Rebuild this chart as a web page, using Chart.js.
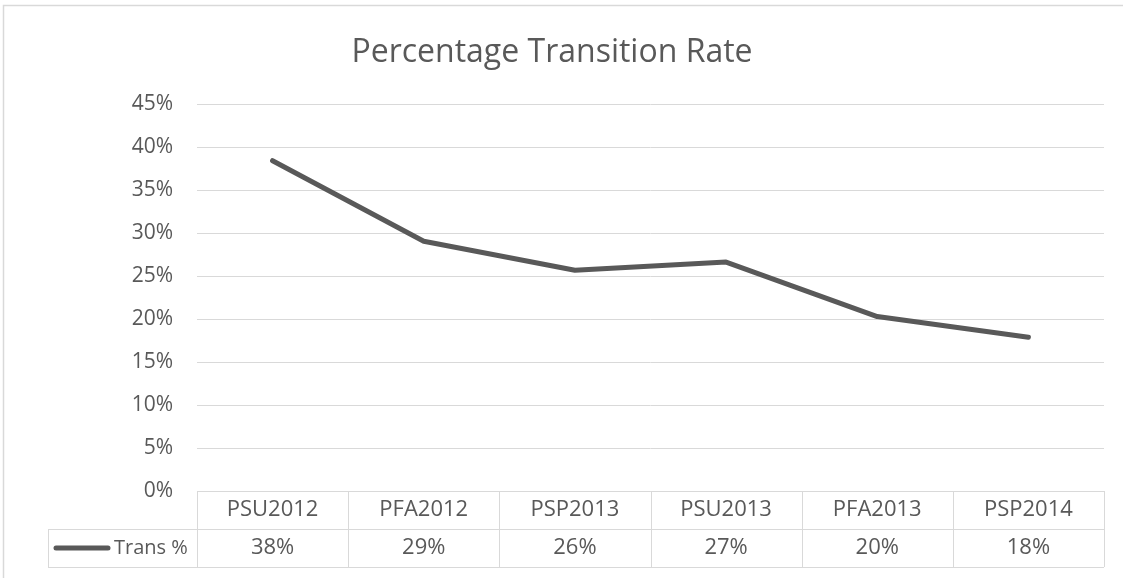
<!DOCTYPE html>
<html>
<head>
<meta charset="utf-8">
<script src="https://cdn.jsdelivr.net/npm/chart.js@4"></script>
<style>
  html, body { margin: 0; padding: 0; background: #fff; }
  #wrap { width: 1123px; height: 578px; }
</style>
</head>
<body>
<div id="wrap"><canvas id="grafica" width="1123" height="578"></canvas></div>
<script>
// datos
const categorias = ['PSU2012', 'PFA2012', 'PSP2013', 'PSU2013', 'PFA2013', 'PSP2014'];
const trans = [38.45, 29.08, 25.7, 26.65, 20.3, 17.9];
const serie = 'Trans %';
const titulo = 'Percentage Transition Rate';

const gris = '#595959';
const linea = '#d9d9d9';
const fuente = '"Open Sans", sans-serif';

// marco exterior y tabla de datos debajo del eje
const tablaPlugin = {
  id: 'tabla',
  beforeDraw(chart) {
    const c = chart.ctx;
    c.save();
    c.strokeStyle = linea;
    c.lineWidth = 1.5;
    c.strokeRect(3.5, 5.5, 1200, 700);
    c.restore();
  },
  afterDraw(chart) {
    const c = chart.ctx;
    const x = chart.scales.x;
    const area = chart.chartArea;
    const n = categorias.length;
    const w = (area.right - area.left) / n;
    const y0 = area.bottom, y1 = y0 + 38, y2 = y1 + 38;
    const izq = 48;
    c.save();
    c.strokeStyle = linea;
    c.lineWidth = 1;
    c.beginPath();
    c.moveTo(area.left, y0 + 0.5); c.lineTo(area.right, y0 + 0.5);
    c.moveTo(izq, y1 + 0.5); c.lineTo(area.right, y1 + 0.5);
    c.moveTo(izq, y2 + 0.5); c.lineTo(area.right, y2 + 0.5);
    c.moveTo(izq + 0.5, y1); c.lineTo(izq + 0.5, y2);
    for (let i = 0; i <= n; i++) {
      const px = Math.round(area.left + i * w) + 0.5;
      c.moveTo(px, y0); c.lineTo(px, y2);
    }
    c.stroke();

    c.fillStyle = gris;
    c.font = '22px ' + fuente;
    c.textAlign = 'center';
    c.textBaseline = 'middle';
    categorias.forEach((cat, i) => {
      const cx = x.getPixelForValue(i);
      c.fillText(cat, cx, (y0 + y1) / 2);
      c.fillText(Math.round(trans[i]) + '%', cx, (y1 + y2) / 2);
    });

    // muestra de la leyenda
    c.strokeStyle = gris;
    c.lineWidth = 5;
    c.lineCap = 'round';
    c.beginPath();
    c.moveTo(56, (y1 + y2) / 2); c.lineTo(108, (y1 + y2) / 2);
    c.stroke();
    c.font = '20px ' + fuente;
    c.textAlign = 'left';
    c.fillText(serie, 114, (y1 + y2) / 2);
    c.restore();
  }
};

const ctx = document.getElementById('grafica').getContext('2d');

let grafica = new Chart(ctx, {
  type: 'line',
  data: {
    labels: categorias,
    datasets: [
      {
        label: serie,
        data: trans,
        borderColor: gris,
        borderWidth: 5,
        borderCapStyle: 'round',
        borderJoinStyle: 'round',
        pointRadius: 0,
        tension: 0,
        fill: false
      }
    ]
  },
  options: {
    responsive: false,
    animation: false,
    layout: { padding: { top: 0, right: 19, bottom: 0, left: 0 } },
    plugins: {
      legend: { display: false },
      tooltip: { enabled: false },
      title: {
        display: true,
        text: titulo,
        color: gris,
        padding: { top: 34, bottom: 32 },
        font: { family: fuente, size: 32, weight: 'normal', lineHeight: 1.2 }
      }
    },
    scales: {
      x: {
        offset: true,
        grid: { display: false },
        border: { display: false },
        ticks: { display: false },
        afterFit: (s) => { s.height = 87; }
      },
      y: {
        min: 0,
        max: 45,
        border: { display: false },
        grid: { color: linea, lineWidth: 1, drawTicks: false },
        ticks: {
          stepSize: 5,
          padding: 24,
          color: gris,
          font: { family: fuente, size: 21 },
          callback: (v) => v + '%'
        },
        afterFit: (s) => { s.width = 197; }
      }
    }
  },
  plugins: [tablaPlugin]
});
</script>
</body>
</html>
